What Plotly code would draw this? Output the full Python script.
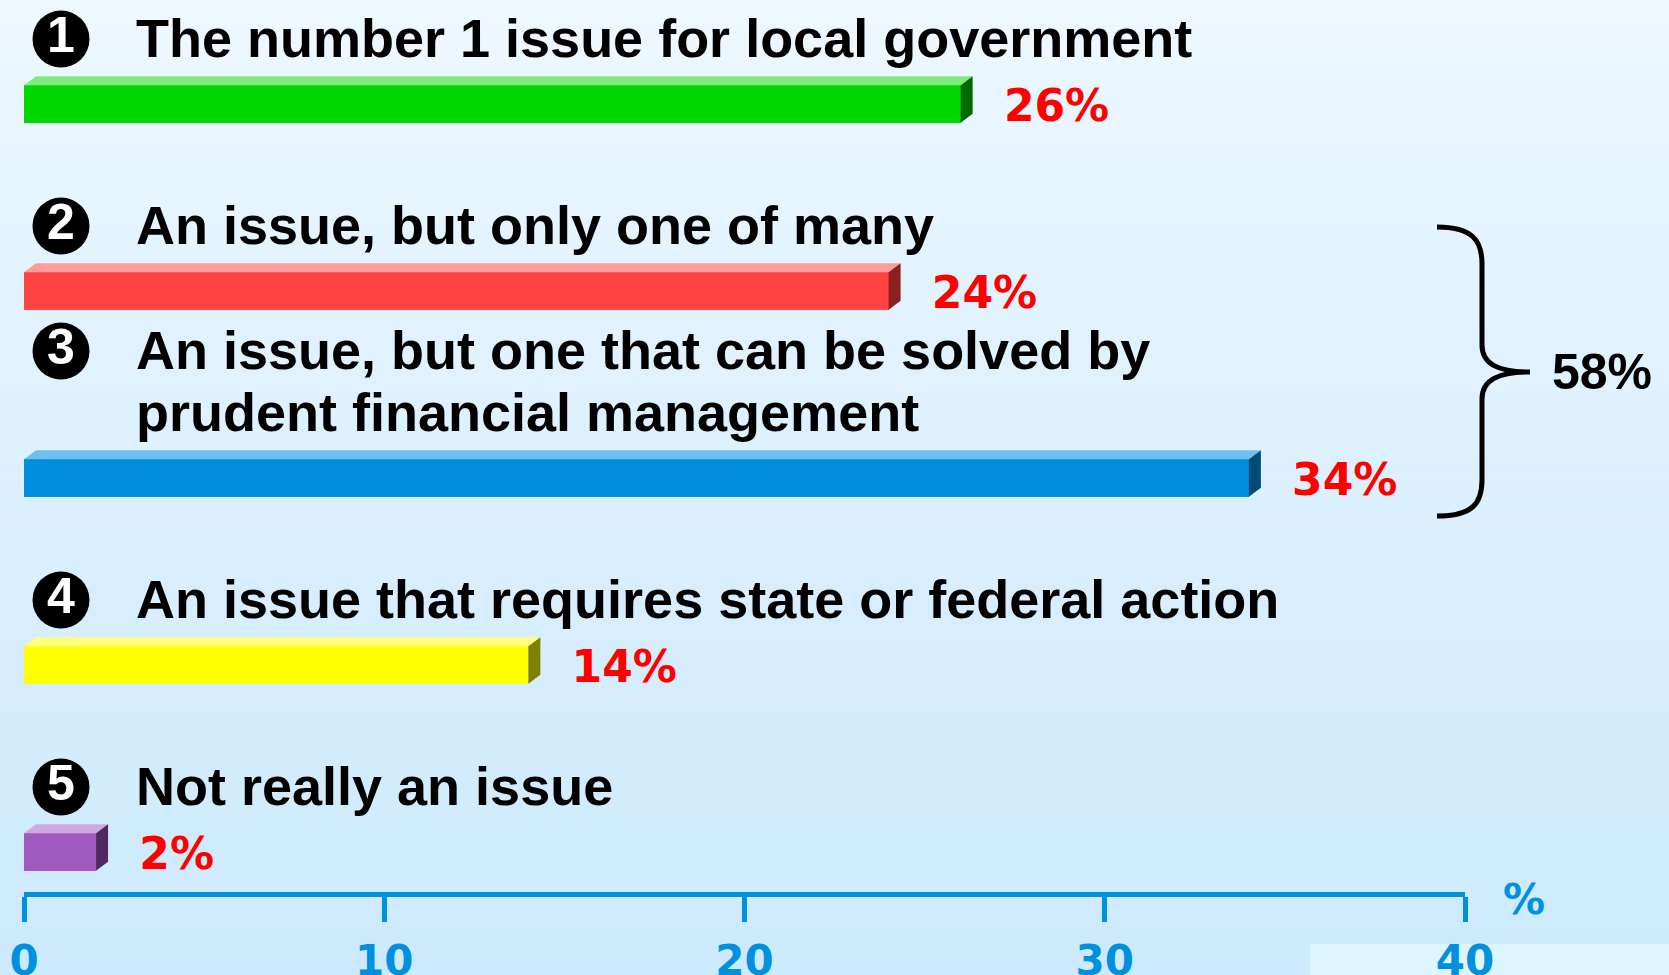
import plotly.graph_objects as go

# data
categories = [
    "The number 1 issue for local government",
    "An issue, but only one of many",
    "An issue, but one that can be solved by<br>prudent financial management",
    "An issue that requires state or federal action",
    "Not really an issue",
]
numbers = ["1", "2", "3", "4", "5"]
values = [26, 24, 34, 14, 2]
group_total = "58%"
x_ticks = [0, 10, 20, 30, 40]

front_colors = ['#00D800', '#FF4242', '#008EDD', '#FFFF00', '#A05ABE']
top_colors = ['#80EC80', '#FF9C9C', '#6EC0EE', '#FFFF80', '#D0A9E0']
side_colors = ['#006A00', '#8B2020', '#004A78', '#808000', '#512962']

W, H = 1669, 975
ML, MR, MT, MB = 24, 204, 0, 83
PW = W - ML - MR
PH = H - MT - MB
PX = PW / 40.0  # pixels per percent

blue = '#0090E0'
bar_h = 37.5
dx = 12 / PX   # depth of the 3d faces
dy = 9

bar_y = [104 + 187 * i for i in range(len(values))]


def px_x(p):
    return (p - ML) / PW


def px_y(p):
    return 1 - (p - MT) / PH


fig = go.Figure()

# front faces
fig.add_trace(go.Bar(
    y=bar_y, x=values, orientation='h', width=bar_h,
    marker=dict(color=front_colors, line_width=0),
    hoverinfo='skip', showlegend=False
))

# top and side faces
for v, yc, tc, sc in zip(values, bar_y, top_colors, side_colors):
    top = yc - bar_h / 2
    bot = yc + bar_h / 2
    fig.add_trace(go.Scatter(
        x=[0, v, v + dx, dx, 0], y=[top, top, top - dy, top - dy, top],
        fill='toself', fillcolor=tc, mode='lines', line=dict(width=0),
        hoverinfo='skip', showlegend=False
    ))
    fig.add_trace(go.Scatter(
        x=[v, v + dx, v + dx, v, v], y=[top, top - dy, bot - dy, bot, top],
        fill='toself', fillcolor=sc, mode='lines', line=dict(width=0),
        hoverinfo='skip', showlegend=False
    ))

# value labels
fig.add_trace(go.Scatter(
    x=[v + 1.2 for v in values], y=[y + 6 for y in bar_y], mode='text',
    text=[f"{v}%" for v in values], textposition='middle right',
    textfont=dict(family='DejaVu Sans', size=44, color='#FF0000', weight='bold'),
    cliponaxis=False, hoverinfo='skip', showlegend=False
))

# category labels + numbered circles
circle_y = []
for cat, yc in zip(categories, bar_y):
    lines = cat.split('<br>')
    n = len(lines)
    for k, line in enumerate(lines):
        ly = yc - 66 - 62 * (n - 1 - k)
        fig.add_annotation(
            x=(134 - ML) / PX, y=ly, xref='x', yref='y', text=line,
            showarrow=False, xanchor='left', yanchor='middle',
            font=dict(family='Liberation Sans', size=54, color='black', weight='bold')
        )
    circle_y.append(yc - 65 - 62 * (n - 1))

fig.add_trace(go.Scatter(
    x=[(61 - ML) / PX] * len(numbers), y=circle_y, mode='markers+text',
    marker=dict(size=57, color='black', line_width=0),
    text=numbers, textposition='middle center',
    textfont=dict(family='Liberation Sans', size=50, color='white', weight='bold'),
    cliponaxis=False, hoverinfo='skip', showlegend=False
))

# brace
brace = [
    "M", (1437, 227), "C", (1472, 227), (1482, 240), (1482, 264),
    "L", (1482, 345), "C", (1482, 364), (1498, 372), (1530, 372),
    "C", (1498, 372), (1482, 380), (1482, 399),
    "L", (1482, 480), "C", (1482, 504), (1472, 516), (1437, 516),
]
path = ""
for item in brace:
    if isinstance(item, str):
        path += item + " "
    else:
        path += f"{px_x(item[0]):.5f},{px_y(item[1]):.5f} "
shapes = [dict(type='path', path=path.strip(), xref='paper', yref='paper',
               line=dict(color='black', width=5))]

# background gradient
stops = [(0, (238, 248, 255)), (300, (226, 243, 254)), (600, (216, 238, 254)), (975, (204, 234, 253))]
n_strips = 80
for i in range(n_strips):
    y0 = H * i / n_strips
    y1 = H * (i + 1) / n_strips
    ym = (y0 + y1) / 2
    for (a, ca), (b, cb) in zip(stops[:-1], stops[1:]):
        if a <= ym <= b:
            t = (ym - a) / (b - a)
            c = tuple(int(round(ca[j] + (cb[j] - ca[j]) * t)) for j in range(3))
            break
    shapes.append(dict(type='rect', xref='paper', yref='paper', layer='below',
                       x0=px_x(0), x1=px_x(W), y0=px_y(y1 + 0.5), y1=px_y(y0),
                       fillcolor=f'rgb{c}', line_width=0))
shapes.append(dict(type='rect', xref='paper', yref='paper', layer='below',
                   x0=px_x(1310), x1=px_x(W), y0=px_y(H), y1=px_y(944),
                   fillcolor='#DDF5FE', line_width=0))

fig.add_annotation(x=px_x(1550), y=px_y(372), xref='paper', yref='paper',
                   text=group_total, showarrow=False, xanchor='left', yanchor='middle',
                   font=dict(family='Liberation Sans', size=50, color='black', weight='bold'))
fig.add_annotation(x=px_x(1524), y=px_y(899), xref='paper', yref='paper',
                   text='%', showarrow=False, xanchor='center', yanchor='middle',
                   font=dict(family='DejaVu Sans', size=42, color=blue, weight='bold'))

fig.update_xaxes(range=[0, 40], tickvals=x_ticks, showgrid=False, zeroline=False,
                 showline=True, linecolor=blue, linewidth=5, automargin=False,
                 ticks='outside', ticklen=25, tickwidth=5, tickcolor=blue,
                 ticklabelstandoff=3,
                 tickfont=dict(family='DejaVu Sans', size=42, color=blue, weight='bold'))
fig.update_yaxes(range=[MT + PH, MT], visible=False, automargin=False)

fig.update_layout(width=W, height=H, margin=dict(l=ML, r=MR, t=MT, b=MB, pad=0, autoexpand=False),
                  paper_bgcolor='#EEF8FF', plot_bgcolor='rgba(0,0,0,0)',
                  shapes=shapes, showlegend=False, bargap=0)

fig.write_html("out.html", config={'displayModeBar': False},
               post_script="document.body.style.margin='0';document.body.style.overflow='hidden';")
